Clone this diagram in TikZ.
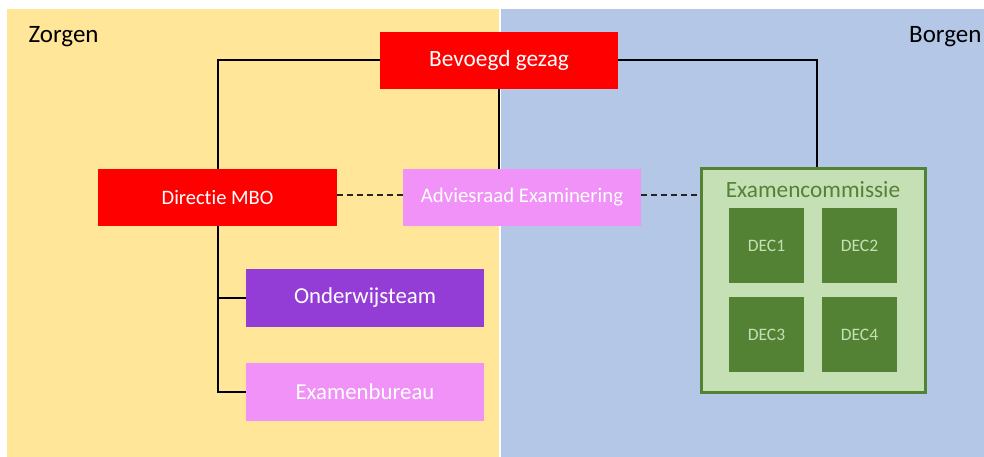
\documentclass[tikz,border=0pt]{standalone}
\usepackage{fontspec}
\setmainfont{Carlito}[RawFeature=-liga]
\definecolor{zorg}{HTML}{FFE699}
\definecolor{borg}{HTML}{B4C7E7}
\definecolor{rood}{HTML}{FF0000}
\definecolor{roze}{HTML}{F092F8}
\definecolor{paars}{HTML}{933CD6}
\definecolor{lgroen}{HTML}{C5E0B4}
\definecolor{dgroen}{HTML}{548235}
\tikzset{
  box/.style={inner sep=0pt, text=white, anchor=center},
  conn/.style={draw=black, line width=2pt},
  dconn/.style={draw=black!85, line width=2pt, dash pattern=on 6pt off 4pt},
  dec/.style={box, fill=dgroen, minimum width=75pt, minimum height=75pt, text=lgroen, font=\fontsize{17.5}{20}\selectfont},
}
\begin{document}
\begin{tikzpicture}[x=1pt,y=-1pt]
\useasboundingbox (0,0) rectangle (984,457);
\fill[white] (0,0) rectangle (984,457);
\fill[zorg] (7,9) rectangle (499,457);
\fill[borg] (500.5,9) rectangle (984,457);
\node[anchor=west, font=\fontsize{25}{30}\selectfont] (zorgen) at (25,37) {Zorgen};
\node[anchor=east, font=\fontsize{25}{30}\selectfont] (borgen) at (985,37) {Borgen};

\node[box, fill=rood, minimum width=238pt, minimum height=57pt, font=\fontsize{23.3}{28}\selectfont] (bg) at (499,60.5) {Bevoegd gezag};
\node[box, fill=rood, minimum width=239pt, minimum height=57pt, font=\fontsize{20.5}{24}\selectfont] (dir) at (217.5,197.5) {Directie MBO};
\node[box, fill=roze, minimum width=238pt, minimum height=57pt, font=\fontsize{20.8}{24}\selectfont] (adv) at (522,197.5) {Adviesraad Examinering};
\node[box, fill=paars, minimum width=238pt, minimum height=58pt, font=\fontsize{22.8}{27}\selectfont] (ond) at (365,298) {Onderwijsteam};
\node[box, fill=roze, minimum width=238pt, minimum height=58pt, font=\fontsize{22.8}{27}\selectfont] (exb) at (365,392) {Examenbureau};

\node[inner sep=0pt, fill=lgroen, draw=dgroen, line width=3pt, minimum width=224pt, minimum height=223pt] (ec) at (813,280.5) {};
\node[inner sep=0pt, text=dgroen, font=\fontsize{23.3}{28}\selectfont] (ectitle) at (813,190) {Examencommissie};
\node[dec] (d1) at (766.5,245.5) {DEC1};
\node[dec] (d2) at (859.5,245.5) {DEC2};
\node[dec] (d3) at (766.5,334.5) {DEC3};
\node[dec] (d4) at (859.5,334.5) {DEC4};

\coordinate (ectop) at ([xshift=4pt]ec.north);
\draw[conn] (bg.west) -| (dir.north);
\draw[conn] (bg.east) -| (ectop);
\draw[conn] (bg.south) -- (bg.south |- adv.north);
\draw[conn] (dir.south) |- (ond.west);
\draw[conn] (dir.south) |- (exb.west);
\draw[dconn] ([yshift=3pt]dir.east) -- ([yshift=3pt]adv.west);
\draw[dconn] ([yshift=3pt]adv.east) -- ([yshift=3pt]adv.east -| ec.west);
\end{tikzpicture}
\end{document}
